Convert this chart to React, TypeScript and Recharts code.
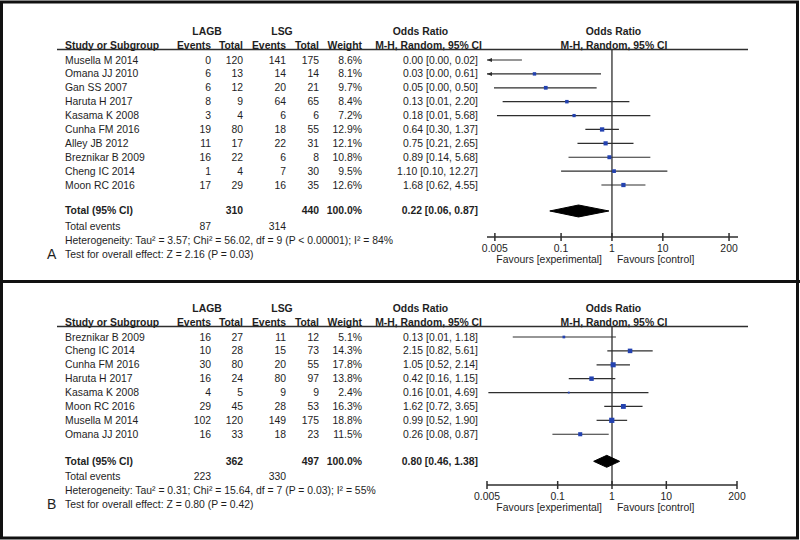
import React from 'react';
import { ComposedChart, XAxis, YAxis, Scatter, ReferenceLine } from 'recharts';

// ---------- Data: panel A ----------
const studiesA = ['Musella M 2014', 'Omana JJ 2010', 'Gan SS 2007', 'Haruta H 2017', 'Kasama K 2008', 'Cunha FM 2016', 'Alley JB 2012', 'Breznikar B 2009', 'Cheng IC 2014', 'Moon RC 2016'];
const eventsLagbA = [0, 6, 6, 8, 3, 19, 11, 16, 1, 17];
const totalLagbA = [120, 13, 12, 9, 4, 80, 17, 22, 4, 29];
const eventsLsgA = [141, 14, 20, 64, 6, 18, 22, 6, 7, 16];
const totalLsgA = [175, 14, 21, 65, 6, 55, 31, 8, 30, 35];
const weightA = [8.6, 8.1, 9.7, 8.4, 7.2, 12.9, 12.1, 10.8, 9.5, 12.6];
const orA = [0.0, 0.03, 0.05, 0.13, 0.18, 0.64, 0.75, 0.89, 1.1, 1.68];
const lowA = [0.0, 0.0, 0.0048, 0.0071, 0.0055, 0.3, 0.21, 0.14, 0.1, 0.62];
const highA = [0.017, 0.61, 0.5, 2.2, 5.68, 1.37, 2.65, 5.68, 12.27, 4.55];
const pooledA = [0.22, 0.06, 0.87];
const totalsA = [310, 440];
const totalEventsA = [87, 314];
const heterogeneityA = 'Heterogeneity: Tau² = 3.57; Chi² = 56.02, df = 9 (P < 0.00001); I² = 84%';
const overallA = 'Test for overall effect: Z = 2.16 (P = 0.03)';

// ---------- Data: panel B ----------
const studiesB = ['Breznikar B 2009', 'Cheng IC 2014', 'Cunha FM 2016', 'Haruta H 2017', 'Kasama K 2008', 'Moon RC 2016', 'Musella M 2014', 'Omana JJ 2010'];
const eventsLagbB = [16, 10, 30, 16, 4, 29, 102, 16];
const totalLagbB = [27, 28, 80, 24, 5, 45, 120, 33];
const eventsLsgB = [11, 15, 20, 80, 9, 28, 149, 18];
const totalLsgB = [12, 73, 55, 97, 9, 53, 175, 23];
const weightB = [5.1, 14.3, 17.8, 13.8, 2.4, 16.3, 18.8, 11.5];
const orB = [0.13, 2.15, 1.05, 0.42, 0.16, 1.62, 0.99, 0.26];
const lowB = [0.0149, 0.82, 0.52, 0.16, 0.0053, 0.72, 0.52, 0.08];
const highB = [1.18, 5.61, 2.14, 1.15, 4.69, 3.65, 1.9, 0.87];
const pooledB = [0.8, 0.46, 1.38];
const totalsB = [362, 497];
const totalEventsB = [223, 330];
const heterogeneityB = 'Heterogeneity: Tau² = 0.31; Chi² = 15.64, df = 7 (P = 0.03); I² = 55%';
const overallB = 'Test for overall effect: Z = 0.80 (P = 0.42)';

const xTicks = [0.005, 0.1, 1, 10, 200];

// ---------- Styling ----------
const FONT = '"Liberation Sans", Arial, sans-serif';
const FS = 10.4;
const TXT = '#1e1e1e';
const LINE = '#2e2e2e';
const BLUE = '#2342b0';
const ROW_H = 13.89;
const ROW0 = 60;

const panels = [
  {
    label: 'A', top: 0, height: 270, plotBottom: 237, xDomain: [0.0035, 300], xLeft: 487, xRight: 738, totalIdx: 10.87,
    studies: studiesA, eL: eventsLagbA, tL: totalLagbA, eS: eventsLsgA, tS: totalLsgA, w: weightA, or: orA, lo: lowA, hi: highA,
    pooled: pooledA, totals: totalsA, totalEvents: totalEventsA, het: heterogeneityA, overall: overallA,
  },
  {
    label: 'B', top: 277, height: 263, plotBottom: 485, xDomain: [0.005, 200], xLeft: 487, xRight: 737, totalIdx: 8.95,
    studies: studiesB, eL: eventsLagbB, tL: totalLagbB, eS: eventsLsgB, tS: totalLsgB, w: weightB, or: orB, lo: lowB, hi: highB,
    pooled: pooledB, totals: totalsB, totalEvents: totalEventsB, het: heterogeneityB, overall: overallB,
  },
];

const fmtCI = (o: number, l: number, h: number) => `${o.toFixed(2)} [${l.toFixed(2)}, ${h.toFixed(2)}]`;

const T = (props: any) => (
  <text fontFamily={FONT} fontSize={FS} fill={TXT} dominantBaseline="central" {...props} />
);

const AxisTick = (props: any) => {
  const { x, y, payload } = props;
  return (
    <g>
      <line x1={x} x2={x} y1={y - 4} y2={y + 4} stroke={LINE} strokeWidth={1.5} />
      <text x={x} y={y + 11.5} textAnchor="middle" dominantBaseline="central" fontFamily={FONT} fontSize={FS} fill={TXT}>
        {String(payload.value)}
      </text>
    </g>
  );
};

const Square = (props: any) => {
  const { cx, cy, payload } = props;
  if (!isFinite(cx) || !isFinite(cy)) return <g />;
  const s = 1.2 * Math.sqrt(payload.w);
  return <rect x={cx - s / 2} y={cy - s / 2} width={s} height={s} fill={BLUE} />;
};

const Arrow = (props: any) => {
  const { cx, cy } = props;
  if (!isFinite(cx) || !isFinite(cy)) return <g />;
  return <polygon points={`${cx},${cy} ${cx + 5},${cy - 2} ${cx + 5},${cy + 2}`} fill={LINE} />;
};

const Empty = () => <g />;

function PanelText({ p }: { p: any }) {
  const rowY = (i: number) => ROW0 + ROW_H * i;
  const totY = rowY(p.totalIdx);
  const localAxis = p.plotBottom - p.top;
  return (
    <g transform={`translate(0, ${p.top})`}>
      <T x={207} y={31} textAnchor="middle" fontWeight="bold">LAGB</T>
      <T x={282} y={31} textAnchor="middle" fontWeight="bold">LSG</T>
      <T x={420.5} y={31} textAnchor="middle" fontWeight="bold">Odds Ratio</T>
      <T x={613.5} y={31} textAnchor="middle" fontWeight="bold">Odds Ratio</T>
      <T x={65} y={45} fontWeight="bold">Study or Subgroup</T>
      <T x={211} y={45} textAnchor="end" fontWeight="bold">Events</T>
      <T x={243} y={45} textAnchor="end" fontWeight="bold">Total</T>
      <T x={286} y={45} textAnchor="end" fontWeight="bold">Events</T>
      <T x={319} y={45} textAnchor="end" fontWeight="bold">Total</T>
      <T x={362} y={45} textAnchor="end" fontWeight="bold">Weight</T>
      <T x={482} y={45} textAnchor="end" fontWeight="bold">M-H, Random, 95% CI</T>
      <T x={614} y={45} textAnchor="middle" fontWeight="bold">M-H, Random, 95% CI</T>
      <line x1={57} x2={748} y1={49.5} y2={49.5} stroke={LINE} strokeWidth={1.5} />
      {p.studies.map((s: string, i: number) => (
        <g key={s}>
          <T x={65} y={rowY(i)}>{s}</T>
          <T x={211} y={rowY(i)} textAnchor="end">{p.eL[i]}</T>
          <T x={243} y={rowY(i)} textAnchor="end">{p.tL[i]}</T>
          <T x={286} y={rowY(i)} textAnchor="end">{p.eS[i]}</T>
          <T x={319} y={rowY(i)} textAnchor="end">{p.tS[i]}</T>
          <T x={362} y={rowY(i)} textAnchor="end">{p.w[i].toFixed(1)}%</T>
          <T x={478} y={rowY(i)} textAnchor="end">{fmtCI(p.or[i], p.lo[i], p.hi[i])}</T>
        </g>
      ))}
      <T x={65} y={totY} fontWeight="bold">Total (95% CI)</T>
      <T x={243} y={totY} textAnchor="end" fontWeight="bold">{p.totals[0]}</T>
      <T x={319} y={totY} textAnchor="end" fontWeight="bold">{p.totals[1]}</T>
      <T x={362} y={totY} textAnchor="end" fontWeight="bold">100.0%</T>
      <T x={478} y={totY} textAnchor="end" fontWeight="bold">{fmtCI(p.pooled[0], p.pooled[1], p.pooled[2])}</T>
      <T x={65} y={totY + 15.5}>Total events</T>
      <T x={211} y={totY + 15.5} textAnchor="end">{p.totalEvents[0]}</T>
      <T x={286} y={totY + 15.5} textAnchor="end">{p.totalEvents[1]}</T>
      <T x={65} y={totY + 29.5}>{p.het}</T>
      <T x={65} y={totY + 43.5}>{p.overall}</T>
      <T x={47} y={totY + 43} fontSize={14}>{p.label}</T>
      <T x={602} y={localAxis + 22.5} textAnchor="end">Favours [experimental]</T>
      <T x={617} y={localAxis + 22.5}>Favours [control]</T>
    </g>
  );
}

function ForestChart({ p }: { p: any }) {
  const plotTopAbs = p.top + 49;
  const firstRowAbs = p.top + ROW0;
  const yMin = -(firstRowAbs - plotTopAbs) / ROW_H;
  const yMax = (p.plotBottom - firstRowAbs) / ROW_H;
  const dMin = p.xDomain[0];
  const squares = p.or
    .map((o: number, i: number) => ({ x: o, y: i, w: p.w[i] }))
    .filter((d: any) => d.x >= dMin);
  const arrows = p.lo
    .map((l: number, i: number) => ({ x: dMin, y: i, l }))
    .filter((d: any) => d.l < dMin);
  const t = p.totalIdx;
  const diamond = [
    { x: p.pooled[1], y: t },
    { x: p.pooled[0], y: t - 0.43 },
    { x: p.pooled[2], y: t },
    { x: p.pooled[0], y: t + 0.43 },
    { x: p.pooled[1], y: t },
  ];
  const axisH = 30;
  const bottomMargin = p.top + p.height - p.plotBottom - axisH;
  return (
    <div style={{ position: 'absolute', left: 0, top: p.top }}>
      <ComposedChart
        width={800}
        height={p.height}
        margin={{ top: 49, left: p.xLeft, right: 800 - p.xRight, bottom: bottomMargin }}
      >
        <XAxis
          type="number"
          dataKey="x"
          scale="log"
          domain={p.xDomain}
          allowDataOverflow
          ticks={xTicks}
          interval={0}
          tick={AxisTick}
          tickLine={false}
          tickSize={0}
          tickMargin={0}
          axisLine={{ stroke: LINE, strokeWidth: 1.5 }}
          height={axisH}
        />
        <YAxis type="number" dataKey="y" domain={[yMin, yMax]} reversed hide allowDataOverflow width={0} />
        <ReferenceLine x={1} stroke={LINE} strokeWidth={1.3} ifOverflow="visible" />
        {p.studies.map((s: string, i: number) => (
          <ReferenceLine
            key={s}
            segment={[
              { x: Math.max(p.lo[i], dMin), y: i },
              { x: p.hi[i], y: i },
            ]}
            stroke={LINE}
            strokeWidth={1.2}
            ifOverflow="visible"
          />
        ))}
        <Scatter data={arrows} shape={Arrow} isAnimationActive={false} />
        <Scatter data={squares} shape={Square} isAnimationActive={false} />
        <Scatter
          data={diamond}
          shape={Empty}
          line={{ fill: '#000', stroke: '#000', strokeWidth: 1 }}
          lineJointType="linear"
          isAnimationActive={false}
        />
      </ComposedChart>
    </div>
  );
}

export default function App() {
  return (
    <div style={{ position: 'absolute', left: 0, top: 0, width: 800, height: 540, overflow: 'hidden', background: '#fff' }}>
      <svg width={800} height={540} style={{ position: 'absolute', left: 0, top: 0 }}>
        <rect x={1.5} y={2} width={796} height={536} fill="none" stroke="#111" strokeWidth={3} />
        <line x1={0} x2={800} y1={281.5} y2={281.5} stroke="#111" strokeWidth={3} />
        {panels.map((p) => (
          <PanelText key={p.label} p={p} />
        ))}
      </svg>
      {panels.map((p) => (
        <ForestChart key={p.label} p={p} />
      ))}
    </div>
  );
}
